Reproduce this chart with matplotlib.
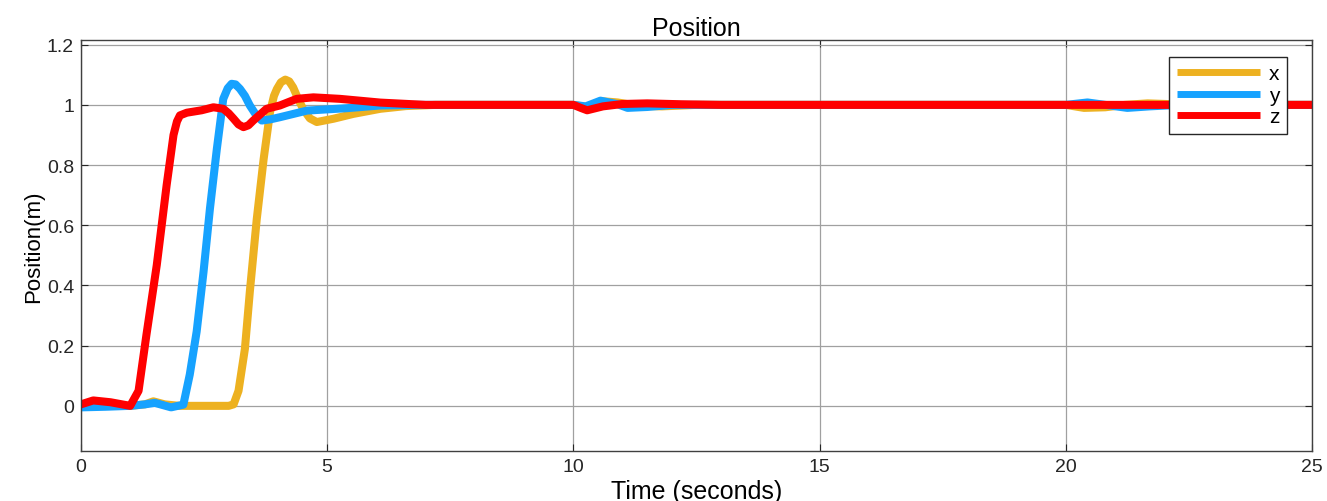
import numpy as np
import matplotlib
matplotlib.use("Agg")
import matplotlib.pyplot as plt

plt.rcParams['font.family'] = ['Liberation Sans', 'DejaVu Sans']

# values (time in s, position in m)
t_x = [0, 0.5, 1.0, 1.3, 1.47, 1.7, 2.0, 2.5, 3.0, 3.1, 3.2, 3.33, 3.43, 3.57, 3.71,
       3.84, 3.92, 3.98, 4.06, 4.15, 4.23, 4.31, 4.41, 4.51, 4.65, 4.79, 5.13, 5.53,
       6.08, 6.6, 7.2, 10.0, 10.3, 10.6, 10.9, 11.3, 11.8, 12.5, 13.5, 20.0, 20.37,
       20.8, 21.2, 21.66, 22.2, 23, 25]
pos_x = [0, 0, 0, 0.005, 0.015, 0.005, 0, 0, 0, 0.005, 0.05, 0.19, 0.38, 0.62, 0.82,
         0.976, 1.03, 1.053, 1.075, 1.084, 1.078, 1.058, 1.02, 0.987, 0.955, 0.943, 0.954,
         0.97, 0.987, 0.996, 1.0, 1.0, 0.992, 1.012, 1.008, 0.997, 0.995, 1.0, 1.0, 1.0,
         0.99, 0.992, 1.0, 1.005, 1.002, 1.0, 1.0]

t_y = [0, 0.5, 1.0, 1.3, 1.5, 1.83, 2.08, 2.21, 2.35, 2.49, 2.62, 2.76, 2.89, 2.98,
       3.06, 3.14, 3.23, 3.33, 3.43, 3.55, 3.67, 3.85, 4.04, 4.59, 5.4, 6.08, 6.8, 10.0,
       10.25, 10.55, 10.9, 11.1, 11.5, 12.0, 13, 20.0, 20.44, 20.8, 21.25, 21.7, 22.3, 23, 25]
pos_y = [-0.005, -0.003, 0, 0.005, 0.01, -0.005, 0.004, 0.104, 0.247, 0.446, 0.656, 0.854,
         1.02, 1.055, 1.07, 1.068, 1.053, 1.03, 0.998, 0.968, 0.948, 0.952, 0.959, 0.981,
         0.989, 0.998, 1.0, 1.0, 0.995, 1.014, 1.002, 0.99, 0.993, 1.0, 1.0, 1.0, 1.008,
         1.0, 0.99, 0.995, 1.0, 1.0, 1.0]

t_z = [0, 0.25, 0.6, 1.0, 1.17, 1.33, 1.54, 1.74, 1.88, 1.95, 2.01, 2.15, 2.45, 2.69,
       2.89, 3.0, 3.10, 3.20, 3.30, 3.40, 3.50, 3.77, 4.04, 4.38, 4.72, 5.26, 6.08, 7.0,
       10.0, 10.15, 10.28, 10.6, 11.0, 11.5, 12.2, 13, 25]
pos_z = [0.005, 0.018, 0.012, 0.0, 0.05, 0.236, 0.468, 0.733, 0.9, 0.945, 0.965, 0.974,
         0.982, 0.992, 0.987, 0.972, 0.954, 0.935, 0.926, 0.932, 0.948, 0.987, 0.998, 1.02,
         1.025, 1.02, 1.0076, 1.0, 1.0, 0.99, 0.982, 0.995, 1.003, 1.005, 1.002, 1.0, 1.0]

labels = ['x', 'y', 'z']
colors = ['#EDB120', '#16A2FF', '#FF0000']

fig = plt.figure(figsize=(13.27, 5.02), dpi=100)
ax = fig.add_axes([0.061, 0.0996, 0.9277, 0.8184])

for tt, vv, lab, col in zip([t_x, t_y, t_z], [pos_x, pos_y, pos_z], labels, colors):
    ax.plot(tt, vv, color=col, lw=5.8, label=lab,
            solid_joinstyle='round', solid_capstyle='round')

ax.set_xlim(0, 25)
ax.set_ylim(-0.15, 1.215)
ax.set_xticks([0, 5, 10, 15, 20, 25])
ax.set_yticks([0, 0.2, 0.4, 0.6, 0.8, 1.0, 1.2])
ax.set_yticklabels(['0', '0.2', '0.4', '0.6', '0.8', '1', '1.2'])
ax.grid(True, color='#a0a0a0', lw=0.9)
ax.set_axisbelow(True)
ax.tick_params(direction='in', length=5, labelsize=14, colors='#262626',
               top=True, right=True, pad=5)
for sp in ax.spines.values():
    sp.set_color('#404040')
    sp.set_linewidth(1.0)

ax.set_title('Position', fontsize=18, pad=4)
ax.set_ylabel('Position(m)', fontsize=16, labelpad=2)
ax.set_xlabel('Time (seconds)', fontsize=18, labelpad=3)

leg = ax.legend(loc='upper right', bbox_to_anchor=(0.9797, 0.9586), fontsize=15,
                handlelength=4.0, fancybox=False, edgecolor='#262626',
                framealpha=1, borderpad=0.35, labelspacing=0.12, handletextpad=0.45,
                borderaxespad=0)
leg.get_frame().set_linewidth(1.0)
for ln in leg.get_lines():
    ln.set_linewidth(5.0)
    ln.set_solid_capstyle('butt')

plt.savefig('out.png', dpi=100)
